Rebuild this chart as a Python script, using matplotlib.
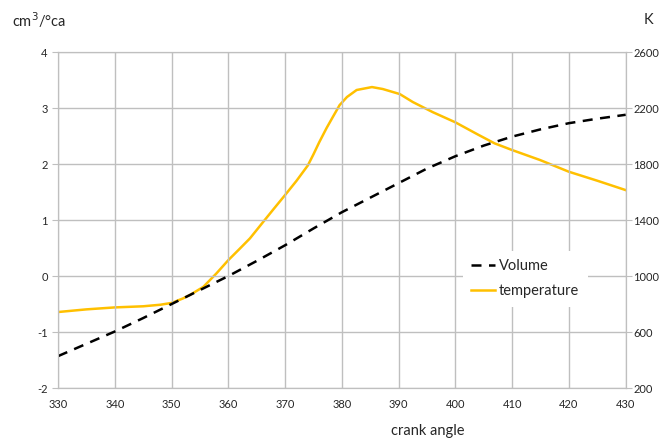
import matplotlib
matplotlib.use("Agg")
import matplotlib.pyplot as plt

plt.rcParams['font.family'] = ['Lato', 'DejaVu Sans']
plt.rcParams['axes.unicode_minus'] = False

# cylinder volume per degree crank angle (left axis)
vol_angle = [330, 335, 340, 345, 350, 355, 360, 365, 370, 375, 380,
             385, 390, 395, 400, 405, 410, 415, 420, 425, 430]
volume = [-1.43, -1.21, -0.99, -0.75, -0.50, -0.25, 0.0, 0.27, 0.55, 0.85, 1.14,
          1.40, 1.66, 1.92, 2.14, 2.33, 2.49, 2.62, 2.73, 2.81, 2.88]

# gas temperature in K (right axis)
temp_angle = [330, 335, 340, 345, 348, 350, 352, 353.2, 355.6, 357.9, 360,
              362, 363.8, 366.4, 368, 370, 372, 374, 375, 376,
              377.3, 378.4, 379.6, 380.9, 382.6, 385.3, 387.2, 390.2, 392.5,
              396, 400, 404, 406.9, 410, 414.9, 420, 425, 430]
temperature = [743, 762, 776, 784, 795, 808, 840, 864, 923, 1019, 1114,
               1195, 1269, 1400, 1480, 1579, 1680, 1790, 1870, 1955,
               2057, 2136, 2221, 2279, 2329, 2350, 2336, 2300, 2243,
               2171, 2098, 2010, 1948, 1900, 1829, 1745, 1681, 1614]

x_ticks = list(range(330, 431, 10))
left_ticks = [-2, -1, 0, 1, 2, 3, 4]
right_ticks = [200, 600, 1000, 1400, 1800, 2200, 2600]

grid_col = "#bfbfbf"
text_col = "#262626"

fig = plt.figure(figsize=(6.6, 4.45), dpi=100)
ax = fig.add_axes([0.088, 0.128, 0.860, 0.755])
ax2 = ax.twinx()

vol_line, = ax.plot(vol_angle, volume, color="black", lw=1.8, dashes=(4, 3))
temp_line, = ax2.plot(temp_angle, temperature, color="#FFC000", lw=1.8)

ax.set_xlim(330, 430)
ax.set_ylim(-2, 4)
ax2.set_ylim(200, 2600)
ax.set_xticks(x_ticks)
ax.set_yticks(left_ticks)
ax2.set_yticks(right_ticks)
ax.grid(True, color=grid_col, lw=1)
ax.set_axisbelow(True)

for a in (ax, ax2):
    for s in a.spines.values():
        s.set_color(grid_col)
    a.tick_params(colors=grid_col, labelcolor=text_col, labelsize=8, length=4)
ax.tick_params(axis="x", length=0, pad=8)
ax2.tick_params(axis="y", pad=1.5)

# draw the left axes on top so its legend covers the gridlines
ax.set_zorder(ax2.get_zorder() + 1)
ax.patch.set_visible(False)
leg = ax.legend([vol_line, temp_line], ["Volume", "temperature"],
                loc="center left", bbox_to_anchor=(0.70, 0.325), frameon=True,
                fontsize=10.5, handlelength=1.6, handletextpad=0.3,
                labelspacing=0.75, borderpad=0.6)
leg.get_frame().set_facecolor("white")
leg.get_frame().set_edgecolor("none")
leg.get_frame().set_alpha(1)
for t in leg.get_texts():
    t.set_color(text_col)

fig.text(0.018, 0.955, "cm$^3$/°ca", fontsize=10.5, color=text_col, va="center")
fig.text(0.99, 0.955, "K", fontsize=10.5, color=text_col, va="center", ha="right")
fig.text(0.648, 0.022, "crank angle", fontsize=10.5, color=text_col, ha="center")

fig.savefig("out.png", dpi=100)
